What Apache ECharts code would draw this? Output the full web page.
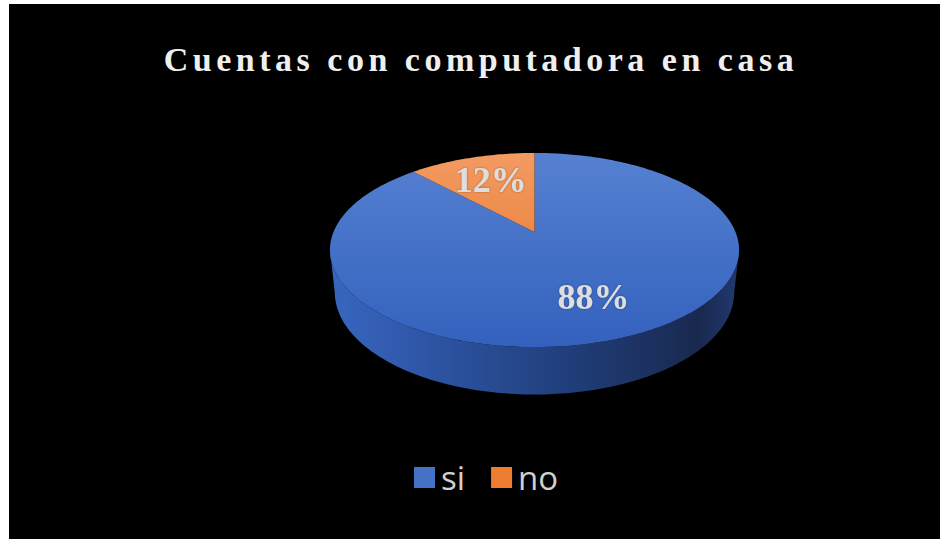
<!DOCTYPE html>
<html>
<head>
<meta charset="utf-8">
<script src="https://cdn.jsdelivr.net/npm/echarts@6/dist/echarts.min.js"></script>
<style>
  html, body { margin: 0; padding: 0; background: #fff; }
  #chart { width: 940px; height: 539px; }
  #chart text[style*="34px"] { letter-spacing: 4.5px; }
</style>
</head>
<body>
<div id="chart"></div>
<script>
// ---- data ----
const titleText = 'Cuentas con computadora en casa';
const categories = ['si', 'no'];
const values = [88, 12];

// ---- style / layout constants ----
const sliceColors = ['#4472C4', '#ED7D31'];
const CX = 534.5, CY = 232;      // projected pie centre
const R = 201;                    // pie radius
const PHI = 27.79 * Math.PI / 180; // tilt
const F = 958;                    // perspective distance
const H = 48;                     // pie thickness
const LABEL_K = 0.66;

const total = values.reduce((a, b) => a + b, 0);

function proj(theta, r, z) {
  const X = r * Math.sin(theta), Y = r * Math.cos(theta), Z = z;
  const yUp = Y * Math.sin(PHI) + Z * Math.cos(PHI);
  const d = Y * Math.cos(PHI) - Z * Math.sin(PHI);
  const s = F / (F + d);
  return [CX + X * s, CY - yUp * s];
}

function arc(t1, t2, r, z) {
  const pts = [];
  const n = Math.max(2, Math.ceil(Math.abs(t2 - t1) / (Math.PI / 180)));
  for (let i = 0; i <= n; i++) pts.push(proj(t1 + (t2 - t1) * i / n, r, z));
  return pts;
}

const b = R * Math.cos(PHI) / F;
const visLo = Math.acos(-b), visHi = 2 * Math.PI - Math.acos(-b);

const topGrad = [
  ['#5681d2', '#3361bd'],
  ['#f39b63', '#e5701f']
];
const sideGrad = [
  [[0, '#3866c0'], [0.3, '#2b519e'], [0.6, '#203d78'], [0.9, '#19294f'], [1, '#22396f']],
  [[0, '#c25a1a'], [1, '#6a3010']]
];

function makeRender(idx) {
  return function (params, api) {
    const v = api.value(0);
    let cum = 0;
    for (let i = 0; i < idx; i++) cum += values[i];
    const t1 = 2 * Math.PI * cum / total;
    const t2 = 2 * Math.PI * (cum + v) / total;
    const children = [];
    const s1 = Math.max(t1, visLo), s2 = Math.min(t2, visHi);
    if (s2 > s1) {
      const topPts = arc(s1, s2, R, 0);
      const botPts = arc(s2, s1, R, -H);
      const left = proj(visHi, R, 0)[0], right = proj(visLo, R, 0)[0];
      children.push({
        type: 'polygon', z2: 1,
        shape: { points: topPts.concat(botPts) },
        style: {
          fill: new echarts.graphic.LinearGradient(left, 0, right, 0,
            sideGrad[idx].map(s => ({ offset: s[0], color: s[1] })), true)
        }
      });
    }
    const pts = [proj(0, 0, 0)].concat(arc(t1, t2, R, 0));
    children.push({
      type: 'polygon', z2: 10,
      shape: { points: pts },
      style: {
        fill: new echarts.graphic.LinearGradient(0, CY - 80, 0, CY + 115, [
          { offset: 0, color: topGrad[idx][0] },
          { offset: 1, color: topGrad[idx][1] }
        ], true)
      }
    });
    const mid = (t1 + t2) / 2;
    const lp = proj(mid, R * LABEL_K, 0);
    children.push({
      type: 'text', z2: 20,
      x: lp[0] + (idx === 0 ? 4 : 0), y: lp[1],
      style: {
        text: Math.round(v / total * 100) + '%',
        font: 'bold 36px "Liberation Serif", "Times New Roman", serif',
        fill: '#dedede',
        align: 'center', verticalAlign: 'middle',
        textShadowColor: 'rgba(0,0,0,0.35)', textShadowBlur: 2
      }
    });
    return { type: 'group', children: children };
  };
}

const chart = echarts.init(document.getElementById('chart'), null, { renderer: 'svg' });
chart.setOption({
  animation: false,
  backgroundColor: '#ffffff',
  graphic: [{
    type: 'rect', z: -10, silent: true,
    shape: { x: 9, y: 4, width: 931, height: 535 },
    style: { fill: '#000000' }
  }],
  title: {
    text: titleText,
    left: 481, top: 42, padding: 0,
    textAlign: 'center',
    textStyle: {
      fontFamily: '"Liberation Serif", "Times New Roman", serif',
      fontSize: 34, fontWeight: 'bold', color: '#efefef'
    }
  },
  legend: {
    data: categories,
    left: 414, top: 461, padding: 0,
    icon: 'rect', itemWidth: 21, itemHeight: 21, itemGap: 26,
    textStyle: {
      fontFamily: '"Open Sans", "Liberation Sans", sans-serif',
      fontSize: 33, color: '#d0d0d0', padding: [0, 0, 0, 1]
    }
  },
  series: categories.map((name, i) => ({
    type: 'custom',
    name: name,
    coordinateSystem: 'none',
    itemStyle: { color: sliceColors[i] },
    data: [[values[i]]],
    renderItem: makeRender(i)
  }))
});

function spaceTitle() {
  document.querySelectorAll('#chart text').forEach(t => {
    if (t.textContent === titleText) t.style.letterSpacing = '4.5px';
  });
}
spaceTitle();
setTimeout(spaceTitle, 50);
</script>
</body>
</html>
